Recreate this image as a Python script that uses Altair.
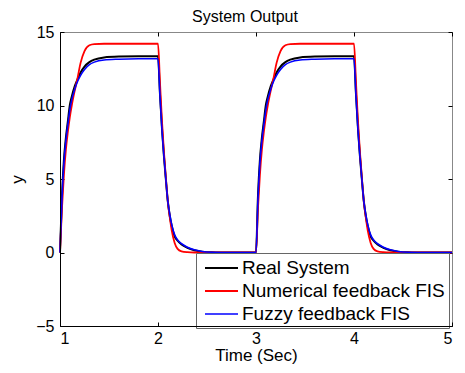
import altair as alt
import pandas as pd

# ---- data ----
time = [
    1.00, 1.02, 1.04, 1.06, 1.08, 1.10, 1.12, 1.15, 1.18, 1.21, 1.25, 1.30, 1.35, 1.45, 1.60, 1.80,
    2.00, 2.02, 2.04, 2.06, 2.08, 2.10, 2.12, 2.14, 2.17, 2.20, 2.24, 2.30, 2.37, 2.45, 2.55, 2.75,
    3.00, 3.02, 3.04, 3.06, 3.08, 3.10, 3.12, 3.15, 3.18, 3.21, 3.25, 3.30, 3.35, 3.45, 3.60, 3.80,
    4.00, 4.02, 4.04, 4.06, 4.08, 4.10, 4.12, 4.14, 4.17, 4.20, 4.24, 4.30, 4.37, 4.45, 4.55, 4.75,
    5.00,
]
real_system = [
    0, 3.8, 6.3, 7.8, 8.9, 10.0, 10.6, 11.3, 11.8, 12.25, 12.65, 12.95, 13.12, 13.27, 13.33, 13.35,
    13.35, 10.8, 8.5, 6.6, 5.0, 3.5, 2.5, 1.8, 1.1, 0.8, 0.55, 0.32, 0.15, 0.05, 0.01, 0,
    0, 3.8, 6.3, 7.8, 8.9, 10.0, 10.6, 11.3, 11.8, 12.25, 12.65, 12.95, 13.12, 13.27, 13.33, 13.35,
    13.35, 10.8, 8.5, 6.6, 5.0, 3.5, 2.5, 1.8, 1.1, 0.8, 0.55, 0.32, 0.15, 0.05, 0.01, 0,
    0,
]
numerical_fis = [
    0, 3.0, 5.3, 7.0, 8.2, 9.2, 10.0, 11.0, 11.9, 12.9, 13.7, 14.1, 14.18, 14.2, 14.2, 14.2,
    14.2, 11.6, 9.0, 6.9, 5.1, 3.5, 2.4, 1.5, 0.65, 0.25, 0.08, 0.02, 0, 0, 0, 0,
    0, 3.0, 5.3, 7.0, 8.2, 9.2, 10.0, 11.0, 11.9, 12.9, 13.7, 14.1, 14.18, 14.2, 14.2, 14.2,
    14.2, 11.6, 9.0, 6.9, 5.1, 3.5, 2.4, 1.5, 0.65, 0.25, 0.08, 0.02, 0, 0, 0, 0,
    0,
]
fuzzy_fis = [
    0, 3.6, 6.1, 7.6, 8.7, 9.7, 10.4, 11.1, 11.65, 12.05, 12.45, 12.78, 12.95, 13.1, 13.15, 13.18,
    13.18, 10.7, 8.4, 6.6, 5.0, 3.5, 2.6, 1.9, 1.2, 0.85, 0.6, 0.36, 0.18, 0.07, 0.02, 0,
    0, 3.6, 6.1, 7.6, 8.7, 9.7, 10.4, 11.1, 11.65, 12.05, 12.45, 12.78, 12.95, 13.1, 13.15, 13.18,
    13.18, 10.7, 8.4, 6.6, 5.0, 3.5, 2.6, 1.9, 1.2, 0.85, 0.6, 0.36, 0.18, 0.07, 0.02, 0,
    0,
]
series_names = ["Real System", "Numerical feedback FIS", "Fuzzy feedback FIS"]
series_colors = ["#000000", "#ff0000", "#0000ff"]
series_widths = [2.0, 1.6, 2.2]
x_ticks = [1, 2, 3, 4, 5]
y_ticks = [-5, 0, 5, 10, 15]

rows = []
for name, vals in zip(series_names, [real_system, numerical_fis, fuzzy_fis]):
    for t, v in zip(time, vals):
        rows.append({"t": t, "v": v, "series": name})
df = pd.DataFrame(rows)

W, H = 392, 294
FONT = "Liberation Sans"
xs = alt.Scale(domain=[1, 5], nice=False, zero=False)
ys = alt.Scale(domain=[-5, 15], nice=False, zero=False)

lines = alt.Chart(df).mark_line(interpolate="monotone").encode(
    x=alt.X("t:Q", scale=xs, axis=alt.Axis(
        orient="bottom", values=x_ticks, format="d", title="Time (Sec)", tickSize=0,
        labelPadding=4, domainColor="#000000", labelFontSize=16, titleFontSize=17,
        titleFontWeight="normal", titlePadding=1, zindex=1, grid=False,
        labelColor="#000000", titleColor="#000000")),
    y=alt.Y("v:Q", scale=ys, axis=alt.Axis(
        orient="left", values=y_ticks, format="d", title="y", tickSize=0,
        labelPadding=6, domainColor="#000000", labelFontSize=16, titleFontSize=17,
        titleFontWeight="normal", titlePadding=9, zindex=1, grid=False,
        labelColor="#000000", titleColor="#000000")),
    color=alt.Color("series:N", sort=series_names,
                    scale=alt.Scale(domain=series_names, range=series_colors),
                    legend=alt.Legend(
                        title=None, orient="none", legendX=136, legendY=221,
                        symbolType="M-0.6,0L2.7,0", symbolSize=400, symbolStrokeWidth=1.6,
                        labelFont=FONT, labelFontSize=19, labelColor="#000000",
                        labelOffset=20, padding=4, rowPadding=2, fillColor="#ffffff",
                        strokeColor="#666666", labelLimit=400)),
    strokeWidth=alt.StrokeWidth("series:N",
                                scale=alt.Scale(domain=series_names, range=series_widths),
                                legend=None),
)

tick_axis = dict(labels=False, domain=False, tickSize=4, tickColor="#000000", title=None, grid=False)

ticks_a = alt.Chart(df).mark_point(opacity=0).encode(
    x=alt.X("t:Q", scale=xs, axis=alt.Axis(orient="top", offset=-H, values=x_ticks, **tick_axis)),
    y=alt.Y("v:Q", scale=ys, axis=alt.Axis(orient="right", offset=-W, values=y_ticks, **tick_axis)),
)
ticks_b = alt.Chart(df).mark_point(opacity=0).encode(
    x=alt.X("t:Q", scale=xs, axis=alt.Axis(orient="bottom", offset=-H, values=x_ticks, **tick_axis)),
    y=alt.Y("v:Q", scale=ys, axis=alt.Axis(orient="left", offset=-W, values=y_ticks, **tick_axis)),
)

chart = alt.layer(lines, ticks_a, ticks_b).resolve_axis(
    x="independent", y="independent"
).properties(
    width=W, height=H,
    title=alt.TitleParams("System Output", font=FONT, fontSize=16, fontWeight="normal",
                          color="#000000", anchor="middle", offset=-1, dx=-11),
    autosize=alt.AutoSizeParams(type="none"),
    padding={"left": 52, "top": 24, "right": 5, "bottom": 38},
    background="#ffffff",
).configure_view(
    stroke="#888888", strokeWidth=1
).configure_axis(
    labelFont=FONT, titleFont=FONT
)

chart.save("out.html", embed_options={"renderer": "svg", "actions": False})
